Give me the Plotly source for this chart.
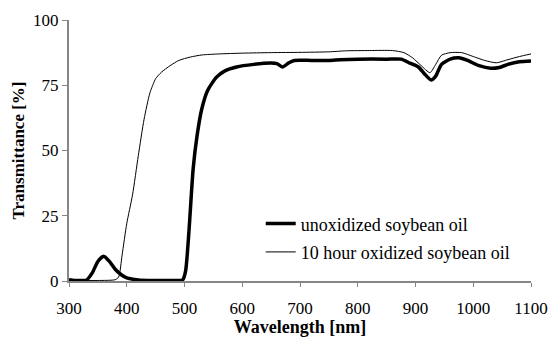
import plotly.graph_objects as go

# Unoxidized soybean oil
wl_unox = [300, 310, 320, 330, 340, 350, 360, 370, 380, 390, 400, 420, 450, 490, 497, 502, 508, 515, 522, 530,
           540, 555, 570, 590, 620, 650, 660, 670, 680, 690, 720, 750, 770, 800, 850, 875, 890, 905, 915, 927,
           935, 945, 960, 975, 990, 1010, 1030, 1045, 1060, 1080, 1100]
t_unox = [0.5, 0.2, 0.2, 0.3, 3.0, 7.5, 9.5, 7.5, 4.5, 2.5, 1.2, 0.4, 0.2, 0.2, 0.5, 4.0, 20.0, 43.0, 56.0, 66.0,
          73.0, 78.0, 80.5, 82.0, 83.0, 83.5, 83.3, 82.0, 83.5, 84.5, 84.5, 84.5, 84.8, 85.0, 85.0, 85.0, 83.5, 82.0, 79.5, 77.0,
          78.5, 83.0, 85.0, 85.5, 84.5, 82.5, 81.5, 81.8, 83.0, 84.0, 84.3]

# 10 hour oxidized soybean oil
wl_ox = [300, 350, 380, 386, 392, 400, 410, 420, 430, 440, 450, 460, 475, 490, 510, 530, 560, 600, 650, 700,
         750, 780, 820, 860, 880, 895, 910, 925, 935, 945, 960, 980, 1000, 1020, 1040, 1060, 1080, 1100]
t_ox = [0.2, 0.2, 0.5, 1.5, 10.0, 22.0, 33.0, 48.0, 62.0, 72.0, 77.5, 80.0, 82.5, 84.5, 85.8, 86.6, 87.0, 87.3, 87.5, 87.6,
        87.8, 88.2, 88.3, 88.3, 87.5, 85.5, 82.5, 79.8, 83.0, 86.5, 87.5, 87.5, 86.0, 84.5, 83.6, 84.8, 86.0, 87.0]

x_ticks = [300, 400, 500, 600, 700, 800, 900, 1000, 1100]
y_ticks = [0, 25, 50, 75, 100]

font = "Times New Roman"
axis_col = "#868686"

fig = go.Figure()
fig.add_trace(go.Scatter(x=wl_unox, y=t_unox, mode="lines", name="unoxidized soybean oil",
                         line=dict(color="black", width=3.5, shape="spline", smoothing=0.6),
                         legendgroup="a"))
fig.add_trace(go.Scatter(x=wl_ox, y=t_ox, mode="lines", name="10 hour oxidized soybean oil",
                         line=dict(color="black", width=1, shape="spline", smoothing=0.6),
                         legendgroup="b"))

fig.update_layout(
    width=549, height=337,
    margin=dict(l=69, r=18, t=20, b=56),
    paper_bgcolor="white", plot_bgcolor="white",
    font=dict(family=font, size=17, color="black"),
    showlegend=True,
    legend=dict(x=0.415, y=0.29, xanchor="left", yanchor="top", bgcolor="rgba(0,0,0,0)",
                font=dict(family=font, size=18), tracegroupgap=2, traceorder="grouped"),
    xaxis=dict(range=[300, 1100], tickvals=x_ticks, showgrid=False, zeroline=False, automargin=False,
               showline=True, linecolor=axis_col, linewidth=2, ticks="outside", ticklen=4,
               tickcolor=axis_col, tickfont=dict(family=font, size=17), ticklabelstandoff=7,
               title=dict(text="<b>Wavelength [nm]</b>", font=dict(family=font, size=18), standoff=15)),
    yaxis=dict(range=[0, 100], tickvals=y_ticks, showgrid=False, zeroline=False, automargin=False,
               showline=True, linecolor=axis_col, linewidth=2, ticks="outside", ticklen=5,
               tickcolor=axis_col, tickfont=dict(family=font, size=17),
               title=dict(text="<b>Transmittance [%]</b>", font=dict(family=font, size=17), standoff=4)),
)

fig.write_html("out.html")
